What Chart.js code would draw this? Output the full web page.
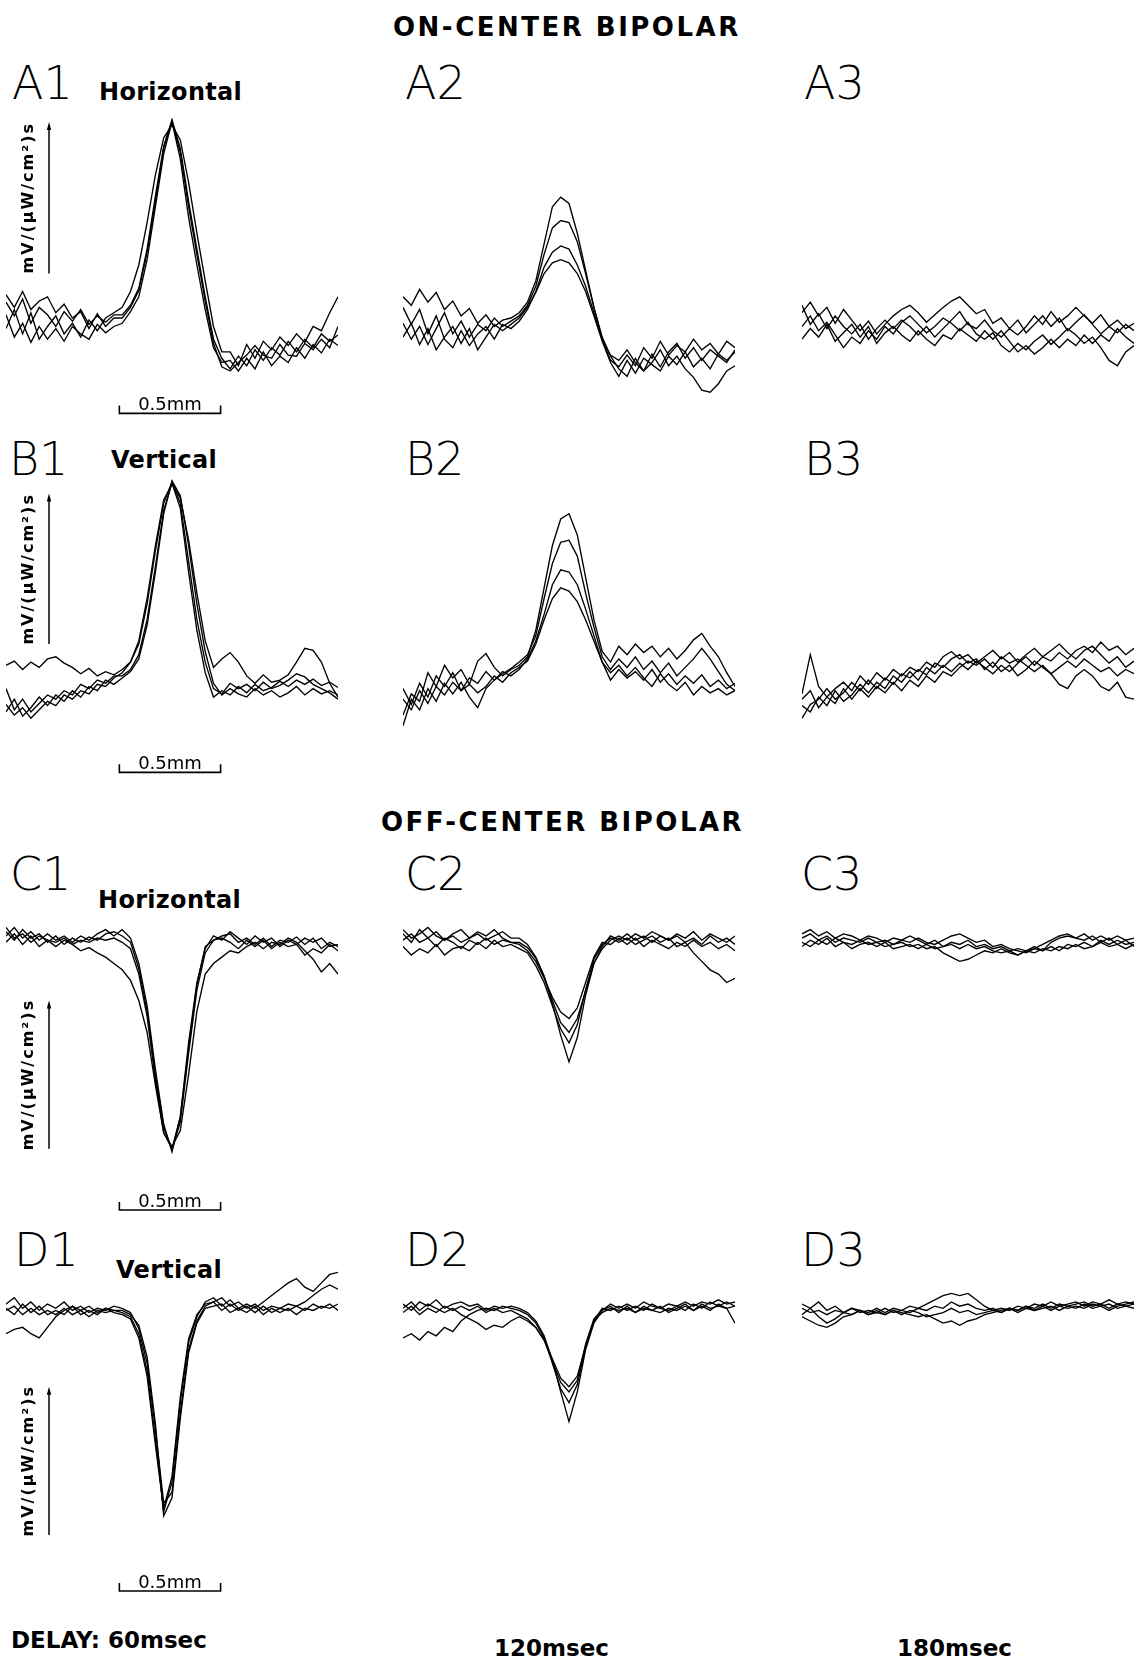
<!DOCTYPE html>
<html><head><meta charset="utf-8">
<script src="https://cdn.jsdelivr.net/npm/chart.js@4.4.0/dist/chart.umd.min.js"></script>
<style>
html,body{margin:0;padding:0;background:#fff;}
#page{position:relative;width:1140px;height:1659px;overflow:hidden;background:#fff;}
canvas{position:absolute;}
.t{position:absolute;white-space:nowrap;line-height:1;color:#000;}
.title{font:bold 26px "DejaVu Sans";letter-spacing:2.5px;}
.pl{font-family:"DejaVu Sans ExtraLight","DejaVu Sans";font-weight:200;font-size:46px;}
.sub{font:bold 24px "DejaVu Sans";letter-spacing:0.3px;}
.bot{font:bold 23px "DejaVu Sans";}
</style></head>
<body><div id="page">
<div class="t title" style="left:393px;top:12px">ON-CENTER BIPOLAR</div>
<div class="t title" style="left:381px;top:807px">OFF-CENTER BIPOLAR</div>

<div class="t pl" style="left:12px;top:60px">A1</div>
<div class="t pl" style="left:405px;top:60px">A2</div>
<div class="t pl" style="left:804px;top:60px">A3</div>
<div class="t pl" style="left:9px;top:436px">B1</div>
<div class="t pl" style="left:405px;top:436px">B2</div>
<div class="t pl" style="left:804px;top:436px">B3</div>
<div class="t pl" style="left:10px;top:851px">C1</div>
<div class="t pl" style="left:405px;top:851px">C2</div>
<div class="t pl" style="left:801px;top:851px">C3</div>
<div class="t pl" style="left:14px;top:1227px">D1</div>
<div class="t pl" style="left:405px;top:1227px">D2</div>
<div class="t pl" style="left:801px;top:1227px">D3</div>

<div class="t sub" style="left:99px;top:78px">Horizontal</div>
<div class="t sub" style="left:111px;top:446px">Vertical</div>
<div class="t sub" style="left:98px;top:886px">Horizontal</div>
<div class="t sub" style="left:116px;top:1256px">Vertical</div>

<div class="t bot" style="left:11px;top:1627px">DELAY: 60msec</div>
<div class="t bot" style="left:494px;top:1635px">120msec</div>
<div class="t bot" style="left:897px;top:1635px">180msec</div>
</div>
<script>
// sample positions across each panel (mm from the slit centre)
const sampleMm = Array.from({length: 41}, (_, i) => -0.82 + i * 0.041);
const panelCols = ['1', '2', '3'];
const panelRows = ['A', 'B', 'C', 'D'];
const unitLabel = 'mV/(\u03bcW/cm\u00b2)s';
const scaleBarLabel = '0.5mm';
const scaleBarMm = [-0.26, 0.24];

// ON-centre, horizontal slit
const A1 = [
 [1.5,0.2,1.8,-0.5,1.0,0.3,-0.8,0.6,-0.3,0.8,-0.6,0.2,-0.4,0.3, 0.3,1.2,2.8,6.5,11.5,16.2,18.7,16.0,11.0,6.5,2.0,-2.0,-3.8, -4.8,-3.6,-4.5,-3.0,-4.0,-2.8,-3.5,-2.2,-3.2,-2.0,-2.8,-1.5,-2.2,-1.6],
 [-1.0,0.8,-1.5,0.5,-2.0,-0.8,0.2,-1.5,-0.5,-1.8,-0.2,-1.2,0.0,0.5, 1.0,2.5,5.0,9.0,13.5,17.0,18.2,16.8,12.8,8.0,3.5,-0.8,-3.2, -3.2,-4.5,-2.5,-3.8,-2.2,-3.0,-1.8,-2.6,-1.5,-2.3,-0.8,-1.2,0.5,2.0],
 [0.3,-1.8,-0.5,-2.3,-0.8,-2.0,-1.0,-2.2,-0.8,-1.5,-2.0,-0.6,-1.4,-0.8, -0.5,0.6,2.0,5.5,10.5,15.5,18.5,15.0,9.5,5.0,0.8,-2.8,-4.2, -4.0,-5.0,-3.8,-4.8,-3.2,-4.5,-3.6,-4.2,-2.8,-3.8,-2.5,-3.3,-2.0,-2.6],
 [2.2,1.0,2.5,0.8,1.6,2.0,0.5,1.3,0.0,0.6,-1.0,0.4,-0.8,0.0, 0.0,1.0,2.6,6.2,11.0,16.0,18.6,15.6,10.5,6.0,1.6,-2.4,-4.6, -5.0,-4.2,-3.5,-2.6,-3.5,-3.8,-2.5,-3.5,-3.6,-2.4,-3.0,-2.0,-2.8,-0.8]
];
const A2 = [
 [2.0,1.2,2.7,1.5,2.4,0.8,1.6,0.2,0.9,-0.5,0.3,-0.8,-0.2,0.0, 0.5,1.5,3.5,7.0,10.5,11.4,10.8,8.0,4.5,1.0,-2.0,-4.0,-4.6, -3.5,-4.5,-2.8,-3.8,-2.2,-3.5,-2.6,-3.2,-2.0,-3.0,-2.4,-3.4,-2.2,-2.8],
 [-0.5,-2.0,-0.8,-2.5,-1.0,0.5,-1.5,-0.3,-1.8,-0.6,-1.2,0.0,-0.8,-0.3, 0.2,1.2,3.0,6.0,8.5,9.2,9.0,7.2,4.2,1.0,-1.8,-3.6,-4.8, -5.5,-3.8,-5.0,-4.2,-3.0,-4.5,-3.6,-4.8,-5.6,-6.8,-7.0,-6.2,-5.0,-4.5],
 [1.0,-0.6,0.8,-1.5,0.2,-2.0,-2.8,-1.2,-2.6,-1.5,-0.8,-2.0,-0.6,-1.0, -0.3,0.8,2.5,4.8,6.2,6.8,6.5,5.0,3.0,0.5,-2.0,-3.5,-4.0, -3.0,-4.2,-5.0,-3.4,-4.6,-3.2,-2.4,-3.8,-2.8,-4.0,-3.0,-3.6,-4.2,-3.0],
 [-1.8,-0.5,-2.5,-1.0,-3.0,-1.8,-0.8,-2.4,-1.0,-3.0,-1.8,-0.6,-1.2,-0.6, 0.0,1.0,2.4,4.2,5.2,5.5,5.2,4.2,2.5,0.2,-2.2,-4.2,-5.5, -4.0,-5.2,-3.8,-4.4,-5.0,-3.6,-4.4,-3.2,-4.6,-3.8,-4.8,-3.4,-4.0,-3.2]
];
const A3 = [
 [0.5,1.5,0.2,1.0,-0.5,0.8,-0.2,-1.2,-0.3,-1.5,-0.6,0.2,0.8,1.2,0.5,-0.4,0.3,1.0,1.6,2.0,1.2,0.4,0.8,-0.5,0.0,-1.0,-0.2,-1.4,-0.6,0.2,-0.8,0.0,-1.2,-0.4,0.3,-0.6,-1.5,-0.8,-0.2,-1.0,-0.5],
 [-0.8,0.2,-1.2,-0.4,-1.6,-2.8,-1.8,-2.4,-1.2,-2.0,-0.8,-1.5,-0.4,0.2,-0.6,-1.4,-0.8,0.0,-0.5,-1.2,-0.4,-1.5,-2.0,-1.4,-2.6,-3.2,-2.4,-3.0,-2.2,-1.6,-2.5,-1.8,-1.0,-1.6,-2.4,-1.8,-2.8,-4.0,-4.5,-3.2,-2.6],
 [1.2,-0.6,0.4,-1.0,0.2,-0.8,-1.5,-0.6,-2.0,-1.0,-0.2,-1.0,-0.2,-0.8,-1.6,-0.8,-1.8,-1.0,-0.2,0.6,-0.6,-1.0,-0.2,-1.2,-1.8,-1.0,-1.6,-0.8,0.2,-0.6,0.6,-0.4,0.2,1.0,0.2,-0.5,0.3,-0.8,-1.4,-0.6,-1.2],
 [-2.0,-1.0,-1.8,-0.6,-2.2,-1.4,-0.6,-1.8,-0.8,-2.4,-1.4,-0.8,-1.6,-2.2,-1.2,-2.0,-2.6,-1.6,-2.0,-1.0,-1.6,-2.2,-1.2,-2.0,-1.2,-2.2,-3.2,-2.6,-3.4,-2.8,-2.0,-2.8,-2.0,-2.6,-1.6,-2.4,-1.6,-2.2,-1.0,-1.8,-2.4]
];
// ON-centre, vertical slit
const B1 = [
 [1.2,1.6,0.8,1.5,1.0,1.8,2.0,1.4,1.0,0.4,0.9,0.2,0.6,0.3, 0.8,1.5,3.2,7.0,12.0,16.5,18.5,16.5,11.0,5.5,1.5,-1.0,-1.5,-0.5, -1.0,-0.6,-1.2,-0.4,-1.0,-0.7,-0.2,0.4,0.1,-0.6,-1.0,-1.4,-2.0],
 [-2.5,-3.5,-2.8,-3.8,-3.0,-2.2,-2.6,-1.6,-2.0,-1.2,-1.5,-0.6,-0.8,0.0, 0.5,1.5,3.5,7.5,12.5,16.8,18.3,17.0,13.0,8.0,3.5,1.0,1.8,2.4, 1.5,0.2,-0.5,0.3,-0.4,-0.2,0.3,1.5,2.8,2.6,1.5,-0.5,-1.8],
 [-1.0,-3.0,-2.0,-3.2,-2.4,-1.6,-2.0,-1.2,-1.6,-0.6,-1.0,-0.2,-0.5,0.2, 0.2,0.8,2.2,5.5,10.5,15.8,18.4,16.0,10.0,4.5,0.5,-1.8,-1.2,-1.6, -0.8,-1.4,-0.6,-1.2,-0.9,-0.3,-0.8,-0.2,-0.6,-0.1,-0.7,-0.4,-0.9],
 [-3.2,-2.0,-3.6,-2.8,-1.8,-2.6,-1.6,-2.2,-1.2,-1.8,-0.8,-1.2,-0.2,-0.6, 0.0,0.6,1.8,5.0,10.0,15.5,18.6,17.2,12.5,7.0,2.5,-0.5,-1.6,-1.0, -1.5,-1.8,-1.0,-1.6,-1.2,-1.8,-1.4,-0.8,-1.6,-1.0,-1.5,-1.2,-1.6]
];
const B2 = [
 [-3.5,-1.5,-2.2,0.5,-0.8,1.2,0.0,0.8,-0.6,1.6,2.3,1.0,0.2,0.8, 1.2,2.0,4.5,8.5,12.5,15.0,15.5,13.5,9.5,5.5,2.5,1.5,3.0,2.2, 3.2,2.4,3.0,2.0,2.8,1.8,2.6,3.6,4.2,3.0,2.0,0.5,-0.8],
 [-1.0,-2.5,-0.5,-1.8,0.2,-0.8,0.5,-1.2,0.0,-0.5,0.6,-0.2,0.4,0.9, 1.5,2.2,4.0,7.5,10.8,12.8,13.0,11.5,8.0,4.8,2.0,0.8,1.8,1.0, 2.0,0.8,1.6,0.5,1.4,0.2,1.0,1.8,2.8,1.8,0.6,-0.6,-1.2],
 [-4.5,-2.0,-3.0,-1.0,-2.2,-0.5,-1.5,-0.4,-1.8,-2.8,-1.0,-0.2,0.6,0.2, 0.8,1.8,3.5,6.0,8.8,10.2,10.0,8.8,6.5,4.0,1.5,-0.2,0.8,0.0, 0.6,-0.2,0.8,-0.4,0.4,-0.6,0.2,-0.5,0.3,-0.8,-0.2,-1.0,-0.5],
 [-2.0,-3.0,-1.2,-2.4,-0.8,-1.6,-0.4,-1.2,-0.6,-1.4,-0.8,0.2,-0.4,0.5, 1.0,1.6,3.2,5.5,7.5,8.5,8.2,7.2,5.5,3.5,1.5,0.5,1.2,0.2, 1.0,0.0,-0.8,0.4,-0.6,-1.2,-0.4,-1.6,-0.8,-1.4,-1.0,-1.6,-1.2]
];
const B3 = [
 [-1.5,2.2,-0.8,-1.8,-1.0,-0.4,-1.2,0.2,-0.6,0.5,-0.2,0.8,0.2,1.0,0.6,1.5,1.0,2.0,2.5,1.8,2.2,1.4,2.0,2.6,1.8,2.4,1.5,2.2,2.8,2.0,2.6,3.2,2.4,1.8,2.6,3.0,2.2,1.4,2.0,1.0,1.6],
 [-3.8,-2.5,-2.0,-1.0,-2.0,-1.4,-0.4,-1.2,-0.2,-1.0,0.0,-0.6,0.4,0.0,0.8,0.3,1.4,1.0,1.8,2.2,1.4,1.8,0.8,1.5,0.6,1.2,0.2,0.8,1.6,1.0,0.4,-0.6,-1.0,0.2,0.8,0.2,-0.8,-1.2,-0.4,-1.8,-2.0],
 [-2.6,-3.2,-1.8,-2.6,-1.2,-2.2,-1.6,-0.6,-1.4,-0.4,-1.0,0.2,-0.4,0.6,-0.2,1.0,0.4,1.2,0.6,1.4,0.8,1.6,1.0,0.4,1.2,0.6,1.4,2.0,1.2,2.0,1.6,2.4,1.8,2.6,3.0,2.4,3.4,2.6,3.0,2.2,2.8],
 [-2.0,-1.2,-2.8,-1.8,-2.4,-1.0,-2.0,-1.0,-1.8,-0.8,-1.4,-0.4,-1.2,-0.2,-0.8,0.2,-0.4,0.6,0.2,1.0,1.6,1.2,1.8,1.0,2.0,1.4,1.8,1.2,0.6,1.2,0.4,1.0,1.6,1.0,1.8,1.2,0.6,1.0,0.2,0.8,0.4]
];
// OFF-centre, horizontal slit
const C1 = [
 [1.0,0.2,1.2,0.4,0.8,0.0,0.6,-0.2,0.4,0.0,0.5,0.2,0.8,1.0, 0.6,0.0,-2.5,-6.5,-12.5,-17.5,-19.6,-17.0,-10.5,-4.5,-1.0,0.2, 0.6,0.8,0.0,0.4,-0.2,0.4,-0.4,0.2,0.0,0.5,-0.2,0.4,-0.6,0.0,-0.4],
 [0.0,0.8,-0.2,0.6,-0.4,0.2,-0.4,0.2,-0.2,-0.8,-0.5,-1.0,-1.4,-2.0, -2.6,-3.6,-5.5,-8.5,-13.5,-18.0,-19.3,-17.8,-12.5,-6.5,-3.0,-2.0, -1.4,-0.8,-1.0,-0.4,0.0,-0.6,0.0,-0.2,0.4,0.0,-0.8,-1.6,-2.8,-2.0,-3.0],
 [0.6,1.4,0.4,1.0,0.2,0.8,0.2,0.6,0.0,0.6,0.2,0.8,1.2,0.6, 1.2,0.4,-2.0,-6.0,-12.0,-17.2,-19.8,-16.5,-9.5,-3.8,-0.6,0.6, 0.2,1.0,0.4,-0.2,0.6,0.0,0.4,-0.4,0.2,-0.2,0.4,0.0,0.4,-0.4,-0.2],
 [1.4,0.4,0.8,0.0,0.6,0.2,0.0,0.4,-0.2,0.2,0.0,0.4,0.2,0.4, 0.0,-0.6,-3.0,-7.0,-13.0,-18.0,-19.5,-16.5,-10.0,-4.0,-0.4,0.2, 0.4,0.0,-0.6,0.2,-0.4,0.2,-0.6,0.0,-0.4,-0.2,-1.2,-0.6,-1.0,-0.2,-0.8]
];
const C2 = [
 [0.8,0.0,1.2,0.4,1.0,0.2,0.6,0.0,0.4,1.0,0.6,1.2,0.4,0.0, 0.0,-0.5,-1.5,-3.2,-5.8,-8.8,-11.3,-9.0,-5.0,-2.0,-0.6,0.2,0.6, 0.2,0.8,0.4,1.0,0.6,0.2,0.8,0.4,1.0,0.2,0.8,0.4,0.0,0.6],
 [-0.4,-1.2,-0.6,-1.0,-0.2,-1.2,-0.6,-0.4,-0.8,0.0,-0.6,0.2,-0.4,-0.2, -0.6,-1.0,-2.2,-3.8,-6.0,-8.2,-9.5,-7.8,-4.5,-1.6,-0.2,0.4,0.0, 0.4,-0.2,0.2,0.6,0.0,0.4,-0.4,0.0,-1.0,-1.8,-2.6,-3.0,-3.8,-3.4],
 [1.2,0.4,0.8,1.4,0.6,0.2,0.8,1.2,0.4,0.8,0.2,0.6,1.0,0.4, 0.4,-0.2,-1.4,-3.2,-5.5,-7.6,-8.5,-7.2,-4.6,-2.0,-0.4,0.6,0.2, 0.8,0.2,0.6,0.0,0.6,0.2,0.6,0.0,0.4,-0.2,0.6,0.0,0.4,-0.2],
 [0.2,0.8,0.0,0.4,-0.4,0.4,0.0,-0.6,0.2,-0.2,0.4,-0.2,0.2,0.0, -0.2,-0.8,-1.8,-3.4,-5.2,-6.6,-7.2,-6.2,-3.8,-1.4,0.0,-0.2,0.4, -0.2,0.4,-0.4,0.2,-0.2,-0.6,0.0,-0.4,0.2,-0.4,0.0,-0.6,-0.2,-0.8]
];
const C3 = [
 [0.8,1.2,0.6,1.0,0.4,0.8,0.6,0.2,0.6,0.4,0.0,0.4,0.2,0.6,0.2,-0.2,0.2,-0.4,0.0,-0.2,0.2,-0.4,-0.2,-0.6,-0.4,-0.8,-0.6,-0.8,-0.4,-0.8,0.0,0.4,0.6,0.4,0.8,0.2,0.6,0.2,0.6,0.2,0.4],
 [0.0,-0.4,0.2,-0.2,0.4,0.0,-0.2,0.2,-0.2,0.0,-0.4,-0.2,0.0,-0.4,-0.2,-0.6,-0.4,-1.0,-1.4,-1.8,-1.6,-1.2,-0.8,-1.0,-0.6,-1.0,-1.2,-0.8,-1.0,-0.6,-0.8,-0.4,-0.6,-0.2,-0.6,-0.4,0.0,-0.4,-0.2,-0.6,-0.2],
 [0.4,0.8,0.2,0.6,0.0,0.4,0.2,0.0,0.4,0.0,0.2,-0.2,0.2,0.0,0.4,0.0,-0.2,0.2,0.6,0.8,0.4,0.0,0.2,-0.4,-0.2,-0.6,-0.8,-1.0,-0.6,-0.8,-0.4,-0.8,-0.2,-0.4,0.0,-0.4,0.2,-0.2,0.2,-0.2,0.0],
 [-0.4,0.2,-0.2,0.4,-0.4,0.0,-0.6,-0.2,0.0,-0.4,0.0,-0.6,-0.4,-0.2,-0.6,-0.2,-0.6,-0.4,-0.2,-0.6,-0.2,-0.6,-0.4,-0.8,-1.0,-0.8,-1.2,-0.8,-0.6,-0.2,0.2,0.6,0.8,0.4,0.2,0.6,0.0,0.4,-0.2,0.2,-0.4]
];
// OFF-centre, vertical slit
const D1 = [
 [0.8,1.4,0.4,1.0,0.2,0.8,0.4,1.0,0.2,0.6,0.0,0.4,0.2,0.6, 0.4,0.0,-1.5,-4.8,-11.0,-18.0,-17.0,-9.5,-3.5,-0.8,0.6,1.0, 1.4,0.6,1.0,0.4,0.8,0.2,0.6,0.4,0.8,0.6,1.0,1.6,2.2,2.6,2.2],
 [-2.0,-1.6,-1.4,-2.0,-2.4,-1.4,-0.4,0.2,0.6,0.2,0.6,0.0,0.4,0.2, 0.0,-0.4,-2.0,-5.5,-12.0,-18.8,-16.0,-8.5,-2.8,-0.4,1.0,1.4, 0.6,1.2,0.4,0.8,0.4,1.0,1.6,2.2,2.8,3.2,2.4,2.0,2.8,3.6,3.8],
 [0.2,0.6,-0.2,0.4,-0.2,0.2,-0.2,0.4,-0.2,0.2,-0.4,0.2,0.0,0.2, 0.2,-0.2,-1.2,-4.2,-10.5,-19.2,-17.5,-10.0,-3.8,-1.0,0.4,0.6, 0.8,0.0,0.4,0.0,0.6,-0.2,0.4,0.0,0.4,-0.2,0.4,0.2,0.6,0.4,0.8],
 [0.4,-0.2,0.8,0.0,0.6,-0.2,0.2,-0.2,0.6,-0.2,0.2,-0.2,0.4,0.0, -0.2,-0.6,-2.4,-6.0,-12.5,-18.5,-15.5,-8.0,-2.5,-0.2,0.8,1.0, 0.2,0.8,0.2,0.6,0.0,0.6,0.0,0.4,0.2,0.6,0.2,0.8,0.4,0.8,0.2]
];
const D2 = [
 [0.8,0.2,1.0,0.6,1.2,0.4,0.8,1.0,0.6,0.8,0.2,0.6,0.4,0.6, 0.4,0.0,-0.8,-2.2,-4.5,-7.5,-10.3,-7.5,-3.5,-1.0,0.2,0.8,0.4, 0.8,0.4,1.0,0.6,0.4,0.8,0.6,1.0,0.6,1.0,0.8,1.2,0.8,1.0],
 [-2.4,-2.0,-2.6,-1.8,-2.2,-1.4,-1.8,-0.8,-0.2,0.2,0.4,0.2,0.6,0.4, 0.2,-0.2,-1.0,-2.4,-4.8,-7.2,-8.5,-6.8,-3.2,-0.8,0.4,0.2,0.6, 0.2,0.6,0.2,0.8,0.4,0.2,0.6,0.2,0.8,0.4,1.0,0.6,0.4,-1.0],
 [0.4,1.0,0.2,0.8,0.4,0.0,0.4,-0.2,-0.6,-1.0,-1.6,-1.2,-1.4,-0.8, -0.4,-0.8,-1.4,-2.6,-4.6,-6.6,-7.5,-6.4,-3.0,-0.6,0.2,0.6,0.0, 0.6,0.0,0.4,0.2,0.6,0.0,0.4,0.8,0.2,0.6,0.2,0.8,0.4,0.6],
 [0.0,0.6,-0.2,0.4,0.0,0.6,0.2,0.6,0.2,0.6,0.0,0.4,0.0,0.2, -0.2,-0.6,-1.4,-2.6,-4.4,-6.2,-7.0,-6.0,-3.2,-0.8,0.0,0.4,0.2, 0.4,0.0,0.6,0.2,0.0,0.4,0.2,0.6,0.2,0.8,0.4,0.6,1.0,0.6]
];
const D3 = [
 [0.8,0.4,1.0,0.2,0.6,0.0,0.4,0.0,0.2,0.0,0.4,0.0,0.2,0.6,0.4,0.8,1.2,1.6,1.8,1.6,1.8,1.2,0.6,0.2,0.4,0.2,0.6,0.4,0.8,0.6,1.0,0.6,0.8,1.0,0.6,1.0,0.8,1.2,0.8,1.0,0.8],
 [-0.4,-0.8,-1.2,-1.4,-1.0,-0.4,-0.2,0.2,-0.2,0.2,-0.2,0.2,0.0,-0.2,-0.4,-0.2,-0.6,-1.0,-0.8,-1.2,-0.8,-0.6,-0.2,0.0,0.2,0.4,0.2,0.6,0.4,0.8,0.4,0.8,0.6,0.8,1.0,0.6,0.8,0.4,0.8,0.6,0.4],
 [0.4,0.0,0.2,-0.2,0.2,0.0,0.4,0.2,0.0,0.4,0.0,0.4,0.2,0.0,0.4,0.2,0.6,0.4,1.0,0.6,0.8,0.4,0.2,0.4,0.0,0.4,0.2,0.6,0.2,0.4,0.6,0.2,0.6,0.4,0.8,0.4,0.6,0.2,0.6,0.8,1.0],
 [-0.2,0.4,-0.4,-1.0,-0.6,0.0,-0.2,0.2,-0.2,0.0,-0.2,0.2,-0.2,0.2,0.0,-0.4,-0.2,0.0,0.4,0.0,0.2,-0.2,0.0,0.2,0.0,0.4,0.0,0.4,0.2,0.6,0.2,0.6,0.4,0.6,0.4,0.8,0.6,0.8,0.4,0.6,0.8]
];
const panelData = {A1, A2, A3, B1, B2, B3, C1, C2, C3, D1, D2, D3};

// layout (pixels) and per-row value windows
const PAD = 6, AREA_W = 332;
const colLeft = {'1': 6, '2': 403, '3': 802};
const rowLayout = {
  A: {top: 106, h: 318, min: -10, max: 20, arrow: [4.2, 18.5], bar: -9.0},
  B: {top: 466, h: 318, min: -10, max: 20, arrow: [3.2, 17.4], bar: -8.9},
  C: {top: 900, h: 328, min: -27, max: 4, arrow: [-19.5, -5.5], bar: -25.3},
  D: {top: 1249, h: 360, min: -28, max: 6, arrow: [-21.0, -7.0], bar: -26.3}
};
const ARROW_MM = -0.6075, LABEL_MM = -0.706;

const decor = {
  id: 'decor',
  afterDatasetsDraw(chart, args, o) {
    if (!o || !o.show) return;
    const {ctx, scales: {x, y}} = chart;
    ctx.save();
    ctx.strokeStyle = '#000'; ctx.fillStyle = '#000';
    const ax = x.getPixelForValue(ARROW_MM);
    const y1 = y.getPixelForValue(o.arrow[0]), y2 = y.getPixelForValue(o.arrow[1]);
    ctx.lineWidth = 1.5;
    ctx.beginPath(); ctx.moveTo(ax, y1); ctx.lineTo(ax, y2 + 4); ctx.stroke();
    ctx.beginPath(); ctx.moveTo(ax, y2); ctx.lineTo(ax - 2.2, y2 + 8); ctx.lineTo(ax + 2.2, y2 + 8); ctx.closePath(); ctx.fill();
    const lx = x.getPixelForValue(LABEL_MM);
    ctx.save();
    ctx.translate(lx, (y1 + y2) / 2);
    ctx.rotate(-Math.PI / 2);
    ctx.font = 'bold 16px "DejaVu Sans"';
    ctx.letterSpacing = '2px';
    ctx.textAlign = 'center'; ctx.textBaseline = 'middle';
    ctx.fillText(unitLabel, 0, 0);
    ctx.restore();
    const bx1 = x.getPixelForValue(scaleBarMm[0]), bx2 = x.getPixelForValue(scaleBarMm[1]);
    const by = y.getPixelForValue(o.bar);
    ctx.lineWidth = 1.6;
    ctx.beginPath(); ctx.moveTo(bx1, by - 8); ctx.lineTo(bx1, by); ctx.lineTo(bx2, by); ctx.lineTo(bx2, by - 8); ctx.stroke();
    ctx.font = '18px "DejaVu Sans"';
    ctx.textAlign = 'center'; ctx.textBaseline = 'alphabetic';
    ctx.fillText(scaleBarLabel, (bx1 + bx2) / 2, by - 3);
    ctx.restore();
  }
};

const page = document.getElementById('page');
panelRows.forEach(r => {
  const L = rowLayout[r];
  panelCols.forEach(c => {
    const key = r + c;
    const cv = document.createElement('canvas');
    cv.width = AREA_W + 2 * PAD; cv.height = L.h + 2 * PAD;
    cv.style.left = (colLeft[c] - PAD) + 'px';
    cv.style.top = (L.top - PAD) + 'px';
    cv.style.width = cv.width + 'px'; cv.style.height = cv.height + 'px';
    page.appendChild(cv);
    new Chart(cv, {
      type: 'line',
      data: {
        datasets: panelData[key].map(tr => ({
          data: tr.map((v, i) => ({x: sampleMm[i], y: v})),
          borderColor: '#000', borderWidth: 1.35, pointRadius: 0, tension: 0, fill: false
        }))
      },
      options: {
        responsive: false, animation: false, devicePixelRatio: 1, events: [],
        layout: {padding: PAD},
        plugins: {legend: {display: false}, tooltip: {enabled: false},
                  decor: {show: c === '1', arrow: L.arrow, bar: L.bar}},
        scales: {
          x: {type: 'linear', min: -0.82, max: 0.82, display: false},
          y: {min: L.min, max: L.max, display: false}
        }
      },
      plugins: [decor]
    });
  });
});
</script>
</body></html>
